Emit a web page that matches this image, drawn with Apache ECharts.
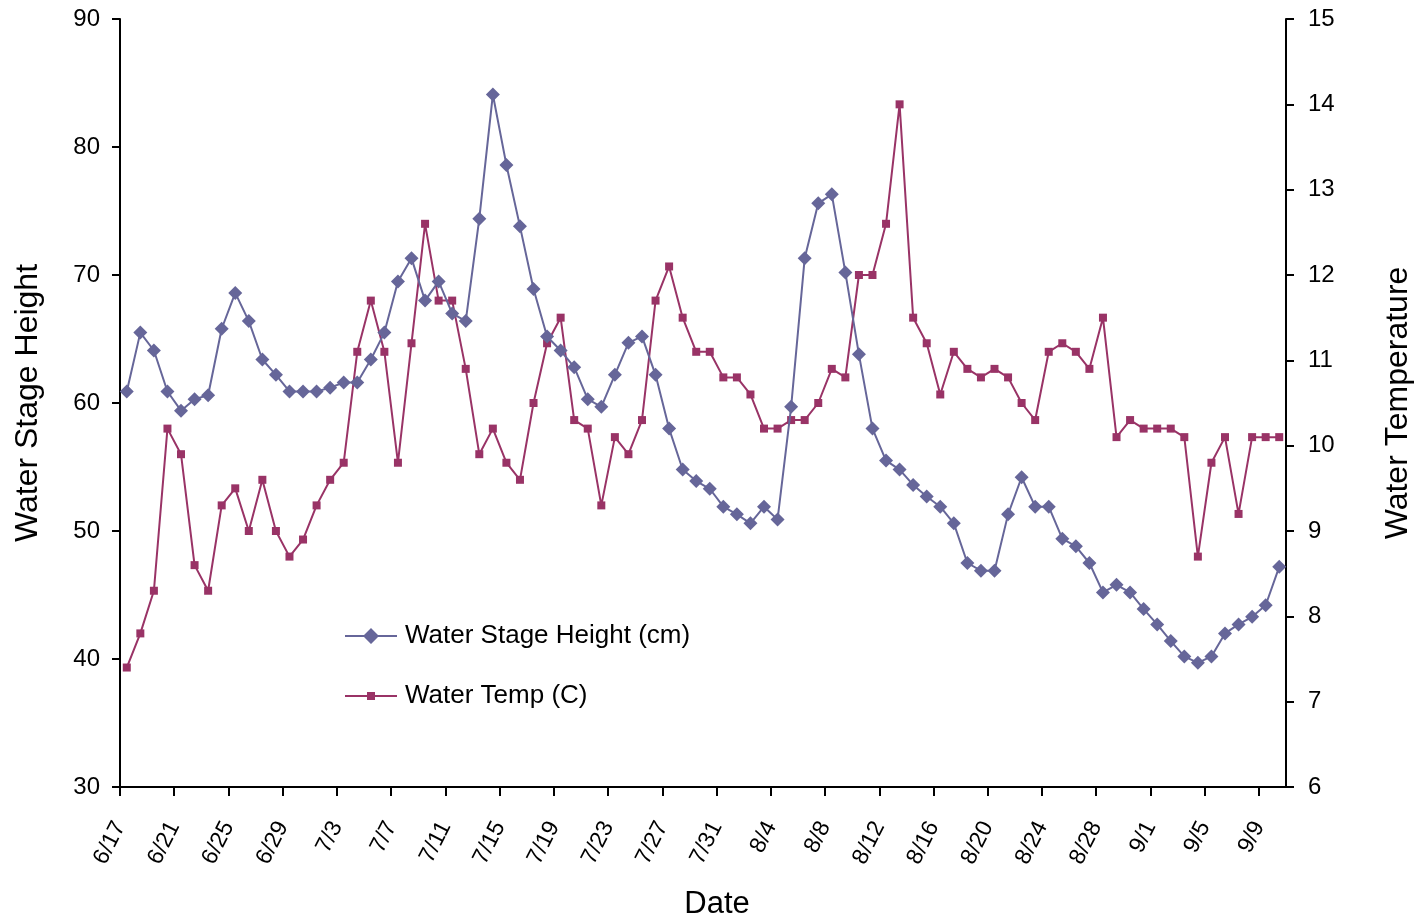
<!DOCTYPE html>
<html>
<head>
<meta charset="utf-8">
<script src="https://cdn.jsdelivr.net/npm/echarts@6/dist/echarts.min.js"></script>
<style>
html,body{margin:0;padding:0;background:#fff;}
#chart{width:1420px;height:922px;}
</style>
</head>
<body>
<div id="chart"></div>
<script>
const dates = [
 '6/17','6/18','6/19','6/20','6/21','6/22','6/23','6/24','6/25','6/26','6/27','6/28','6/29','6/30',
 '7/1','7/2','7/3','7/4','7/5','7/6','7/7','7/8','7/9','7/10','7/11','7/12','7/13','7/14','7/15','7/16',
 '7/17','7/18','7/19','7/20','7/21','7/22','7/23','7/24','7/25','7/26','7/27','7/28','7/29','7/30','7/31',
 '8/1','8/2','8/3','8/4','8/5','8/6','8/7','8/8','8/9','8/10','8/11','8/12','8/13','8/14','8/15','8/16',
 '8/17','8/18','8/19','8/20','8/21','8/22','8/23','8/24','8/25','8/26','8/27','8/28','8/29','8/30','8/31',
 '9/1','9/2','9/3','9/4','9/5','9/6','9/7','9/8','9/9','9/10'
];
const stageHeight = [
 60.9,65.5,64.1,60.9,59.4,60.3,60.6,65.8,68.6,66.4,
 63.4,62.2,60.9,60.9,60.9,61.2,61.6,61.6,63.4,65.5,
 69.5,71.3,68.0,69.5,67.0,66.4,74.4,84.1,78.6,73.8,
 68.9,65.2,64.1,62.8,60.3,59.7,62.2,64.7,65.2,62.2,
 58.0,54.8,53.9,53.3,51.9,51.3,50.6,51.9,50.9,59.7,
 71.3,75.6,76.3,70.2,63.8,58.0,55.5,54.8,53.6,52.7,
 51.9,50.6,47.5,46.9,46.9,51.3,54.2,51.9,51.9,49.4,
 48.8,47.5,45.2,45.8,45.2,43.9,42.7,41.4,40.2,39.7,
 40.2,42.0,42.7,43.3,44.2,47.2
];
const waterTemp = [
 7.4,7.8,8.3,10.2,9.9,8.6,8.3,9.3,9.5,9.0,
 9.6,9.0,8.7,8.9,9.3,9.6,9.8,11.1,11.7,11.1,
 9.8,11.2,12.6,11.7,11.7,10.9,9.9,10.2,9.8,9.6,
 10.5,11.2,11.5,10.3,10.2,9.3,10.1,9.9,10.3,11.7,
 12.1,11.5,11.1,11.1,10.8,10.8,10.6,10.2,10.2,10.3,
 10.3,10.5,10.9,10.8,12.0,12.0,12.6,14.0,11.5,11.2,
 10.6,11.1,10.9,10.8,10.9,10.8,10.5,10.3,11.1,11.2,
 11.1,10.9,11.5,10.1,10.3,10.2,10.2,10.2,10.1,8.7,
 9.8,10.1,9.2,10.1,10.1,10.1
];
const labelStep = 4;
const tickIdx = dates.map((d,i)=>i).filter(i => i % labelStep === 0);

const FONT = 'Liberation Sans, Arial, sans-serif';
const chart = echarts.init(document.getElementById('chart'), null, {renderer:'canvas'});
const axisLineStyle = {color:'#000', width:2};
const iconDiamond = 'path://M0,7L19,7L26,0L33,7L52,7L52,9L33,9L26,16L19,9L0,9Z';
const iconSquare = 'path://M0,7L22,7L22,4L30,4L30,7L52,7L52,9L30,9L30,12L22,12L22,9L0,9Z';
chart.setOption({
  animation:false,
  backgroundColor:'#fff',
  grid:{left:120, right:134, top:19, bottom:135, containLabel:false, outerBoundsMode:'none'},
  legend:{
    orient:'vertical', left:340, top:618, itemGap:34,
    itemWidth:52, itemHeight:16,
    textStyle:{fontFamily:FONT, fontSize:26, color:'#000', padding:[0,0,0,3]},
    data:[
      {name:'Water Stage Height (cm)', icon:iconDiamond},
      {name:'Water Temp (C)', icon:iconSquare}
    ]
  },
  xAxis:[
    {type:'category', data:dates, boundaryGap:true, position:'bottom',
     axisLine:{show:true, lineStyle:axisLineStyle}, axisTick:{show:false},
     axisLabel:{show:false}, splitLine:{show:false}},
    {type:'value', min:0, max:dates.length, interval:labelStep, position:'bottom',
     name:'Date', nameLocation:'middle', nameGap:102,
     nameTextStyle:{fontFamily:FONT, fontSize:31, color:'#000', padding:[0,0,0,28]},
     axisLine:{show:false},
     axisTick:{show:true, length:9, lineStyle:axisLineStyle, customValues:tickIdx},
     axisLabel:{rotate:63, margin:36, fontFamily:FONT, fontSize:23, color:'#000',
       customValues:tickIdx,
       formatter:v => (v % labelStep === 0 && dates[v]) ? dates[v] : ''},
     splitLine:{show:false}}
  ],
  yAxis:[
    {type:'value', min:30, max:90, interval:10, position:'left',
     name:'Water Stage Height', nameLocation:'middle', nameGap:76, nameRotate:90,
     nameTextStyle:{fontFamily:FONT, fontSize:32, color:'#000'},
     axisLine:{show:true, lineStyle:axisLineStyle},
     axisTick:{show:true, length:8, lineStyle:axisLineStyle},
     axisLabel:{margin:20, fontFamily:FONT, fontSize:24, color:'#000'},
     splitLine:{show:false}},
    {type:'value', min:6, max:15, interval:1, position:'right',
     name:'Water Temperature', nameLocation:'middle', nameGap:96, nameRotate:90,
     nameTextStyle:{fontFamily:FONT, fontSize:32, color:'#000'},
     axisLine:{show:true, lineStyle:axisLineStyle},
     axisTick:{show:true, length:8, lineStyle:axisLineStyle},
     axisLabel:{margin:22, fontFamily:FONT, fontSize:24, color:'#000'},
     splitLine:{show:false}}
  ],
  series:[
    {name:'Water Stage Height (cm)', type:'line', xAxisIndex:0, yAxisIndex:0,
     data:stageHeight, symbol:'diamond', symbolSize:14, showAllSymbol:true,
     lineStyle:{color:'#666699', width:2}, itemStyle:{color:'#666699'}, z:3},
    {name:'Water Temp (C)', type:'line', xAxisIndex:0, yAxisIndex:1,
     data:waterTemp, symbol:'rect', symbolSize:8, showAllSymbol:true,
     lineStyle:{color:'#993366', width:2}, itemStyle:{color:'#993366'}, z:2}
  ]
});
</script>
</body>
</html>
